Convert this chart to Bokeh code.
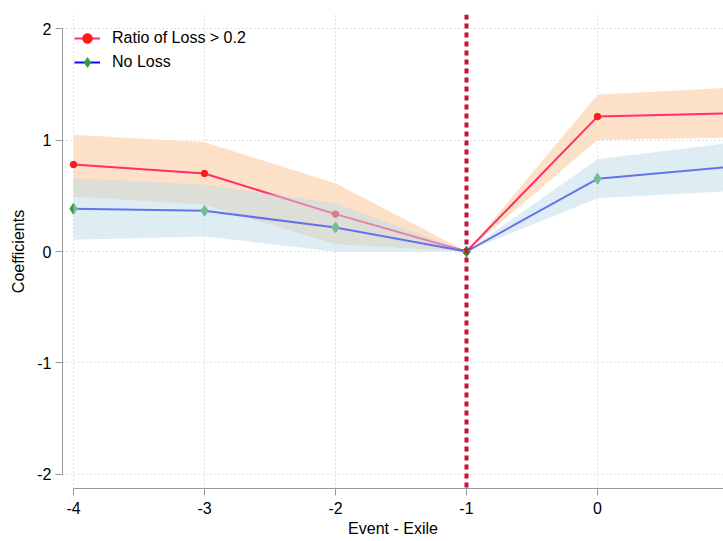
from bokeh.plotting import figure
from bokeh.models import ColumnDataSource, FixedTicker, Span, Range1d, CustomJSTickFormatter
from bokeh.embed import file_html
from bokeh.resources import INLINE

# ---- data ----
periods = [-4, -3, -2, -1, 0, 1]
loss_coef = [0.78, 0.70, 0.335, 0.0, 1.21, 1.24]
loss_lo = [0.493, 0.419, 0.066, 0.0, 1.00, 1.02]
loss_hi = [1.047, 0.98, 0.613, 0.0, 1.405, 1.47]
noloss_coef = [0.383, 0.365, 0.215, 0.0, 0.652, 0.757]
noloss_lo = [0.105, 0.135, 0.0, 0.0, 0.478, 0.54]
noloss_hi = [0.657, 0.598, 0.433, 0.0, 0.828, 0.972]
event_x = -1
x_ticks = [-4, -3, -2, -1, 0, 1]
y_ticks = [-2, -1, 0, 1, 2]

src = ColumnDataSource(dict(x=periods, lc=loss_coef, llo=loss_lo, lhi=loss_hi,
                            nc=noloss_coef, nlo=noloss_lo, nhi=noloss_hi))

FONT = "Liberation Sans"

p = figure(width=723, height=541, output_backend="svg", toolbar_location=None,
           x_range=Range1d(-4.084, 0.962), y_range=Range1d(-2.1256, 2.1256),
           min_border_left=62, min_border_right=0, min_border_top=14,
           min_border_bottom=53)
p.outline_line_color = None
p.background_fill_color = "white"
p.border_fill_color = "white"

# CI bands and lines (draw order mimics reference)
p.varea(x="x", y1="llo", y2="lhi", source=src, fill_color="#FDE0C8", fill_alpha=1.0)
p.line(x="x", y="lc", source=src, line_color="#FF2F6A", line_width=2,
       legend_label="Ratio of Loss > 0.2")
p.scatter(x="x", y="lc", source=src, marker="circle", size=6.5,
          fill_color="#FF1A1A", line_color="#FF1A1A", legend_label="Ratio of Loss > 0.2")
p.line(x="x", y="nc", source=src, line_color="#0A0AF0", line_width=2,
       legend_label="No Loss")
p.scatter(x="x", y="nc", source=src, marker="diamond", size=11,
          fill_color="#2E9E3E", line_color="#2E9E3E", legend_label="No Loss")
p.varea(x="x", y1="nlo", y2="nhi", source=src, fill_color="#BDDBE7", fill_alpha=0.5)

# event line
p.add_layout(Span(location=event_x, dimension="height", line_color="#C8103C",
                  line_width=4, line_dash="5 4"))

# axes
fmt = "return tick.toString();"
p.xaxis.ticker = FixedTicker(ticks=x_ticks)
p.yaxis.ticker = FixedTicker(ticks=y_ticks)
p.xaxis.formatter = CustomJSTickFormatter(code=fmt)
p.yaxis.formatter = CustomJSTickFormatter(code=fmt)
p.xaxis.bounds = (-4, 1)
p.yaxis.bounds = (-2, 2)
for ax in (p.xaxis[0], p.yaxis[0]):
    ax.axis_line_color = "#999999"
    ax.major_tick_line_color = "#999999"
    ax.major_tick_out = 7
    ax.major_tick_in = 0
    ax.minor_tick_line_color = None
    ax.major_label_text_font = FONT
    ax.major_label_text_font_size = "16px"
    ax.major_label_text_color = "black"
    ax.axis_label_text_font = FONT
    ax.axis_label_text_font_size = "16px"
    ax.axis_label_text_font_style = "normal"
    ax.axis_label_text_color = "black"
p.xaxis.axis_label = "Event - Exile"
p.yaxis.axis_label = "Coefficients"
p.xaxis.major_label_standoff = 6
p.xaxis.axis_label_standoff = 3
p.yaxis.major_label_standoff = 4
p.yaxis.axis_label_standoff = 7
p.yaxis.major_label_orientation = "horizontal"

# grids
for g in (p.xgrid[0], p.ygrid[0]):
    g.grid_line_color = "#c4c4c4"
    g.grid_line_dash = "1 3"
    g.grid_line_width = 1
p.xgrid.ticker = FixedTicker(ticks=x_ticks)
p.ygrid.ticker = FixedTicker(ticks=y_ticks)

# legend
lg = p.legend[0]
lg.location = "top_left"
lg.border_line_color = None
lg.background_fill_alpha = 0.0
lg.margin = 12
lg.padding = 7
lg.spacing = 0
lg.glyph_width = 26
lg.glyph_height = 24
lg.label_height = 24
lg.label_standoff = 12
lg.label_text_font = FONT
lg.label_text_font_size = "16px"
lg.label_text_color = "black"

open("out.html", "w").write(file_html(p, INLINE))
